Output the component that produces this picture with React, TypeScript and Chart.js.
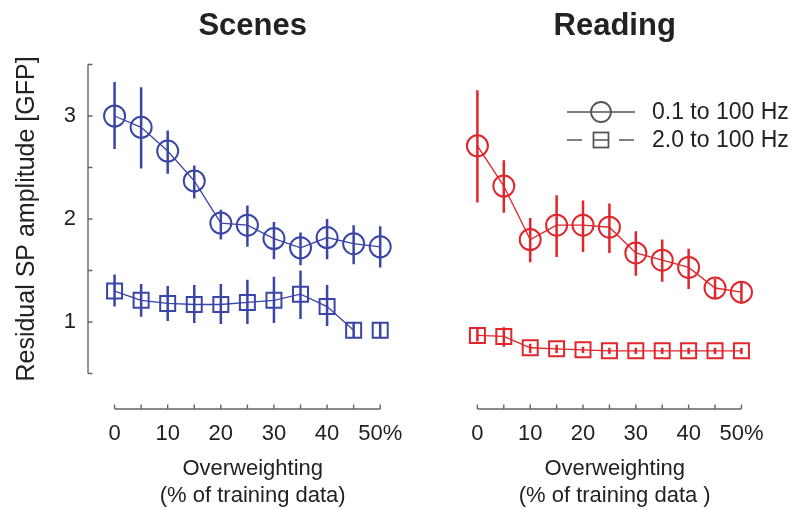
import React, { useEffect, useRef } from 'react';
import { Chart, registerables } from 'chart.js';

Chart.register(...registerables);
Chart.defaults.font.family = '"Liberation Sans", Arial, sans-serif';

// ---------- data ----------
const xValues = [0, 5, 10, 15, 20, 25, 30, 35, 40, 45, 50];
const xTickLabels = ['0', '', '10', '', '20', '', '30', '', '40', '', '50%'];
const yTickValues = [0.5, 1, 1.5, 2, 2.5, 3, 3.5];
const yTickLabels = ['', '1', '', '2', '', '3', ''];
const legendLabels = ['0.1 to 100 Hz', '2.0 to 100 Hz'];

// Scenes, 0.1 to 100 Hz
const scenesWide = [3.0, 2.89, 2.66, 2.37, 1.96, 1.94, 1.81, 1.72, 1.82, 1.76, 1.73];
const scenesWideLow = [2.68, 2.49, 2.44, 2.2, 1.8, 1.73, 1.61, 1.55, 1.61, 1.56, 1.53];
const scenesWideHigh = [3.33, 3.28, 2.86, 2.52, 2.09, 2.13, 1.97, 1.87, 2.0, 1.94, 1.93];
// Scenes, 2.0 to 100 Hz
const scenesNarrow = [1.3, 1.21, 1.18, 1.17, 1.17, 1.19, 1.21, 1.27, 1.15, 0.92, 0.92];
const scenesNarrowLow = [1.15, 1.05, 1.01, 0.99, 0.98, 0.98, 0.99, 1.03, 0.96, 0.85, 0.85];
const scenesNarrowHigh = [1.46, 1.37, 1.35, 1.36, 1.37, 1.41, 1.44, 1.5, 1.36, 0.99, 0.99];
const scenesNarrowGaps = [9];
// Reading, 0.1 to 100 Hz
const readingWide = [2.71, 2.32, 1.8, 1.94, 1.94, 1.92, 1.67, 1.6, 1.53, 1.33, 1.29];
const readingWideLow = [2.16, 2.06, 1.58, 1.63, 1.68, 1.67, 1.45, 1.39, 1.32, 1.22, 1.18];
const readingWideHigh = [3.25, 2.57, 2.01, 2.23, 2.18, 2.15, 1.88, 1.8, 1.71, 1.42, 1.39];
// Reading, 2.0 to 100 Hz
const readingNarrow = [0.87, 0.86, 0.75, 0.74, 0.73, 0.72, 0.72, 0.72, 0.72, 0.72, 0.72];
const readingNarrowLow = [0.81, 0.76, 0.7, 0.7, 0.7, 0.69, 0.69, 0.69, 0.69, 0.69, 0.69];
const readingNarrowHigh = [0.94, 0.95, 0.79, 0.78, 0.76, 0.75, 0.75, 0.75, 0.75, 0.75, 0.75];

// ---------- styles ----------
const BLUE = '#3a45a8';
const RED = '#e0262c';
const AXIS = '#666666';
const TEXT = '#222222';
const LEGEND = '#555555';

const pts = (ys: number[]) => xValues.map((x, i) => ({ x, y: ys[i] }));

function series(label: string, ys: number[], lo: number[], hi: number[], color: string, style: 'circle' | 'rect', gaps: number[] = []) {
  return {
    label,
    data: pts(ys),
    errLow: lo,
    errHigh: hi,
    borderColor: color,
    backgroundColor: 'rgba(0,0,0,0)',
    borderWidth: 1.3,
    pointStyle: style,
    pointRadius: style === 'circle' ? 10.5 : 10.6,
    pointBorderWidth: 2,
    pointBorderColor: color,
    pointBackgroundColor: 'rgba(0,0,0,0)',
    tension: 0,
    segment: {
      borderColor: (c: any) => (gaps.includes(c.p0DataIndex) ? 'rgba(0,0,0,0)' : color),
    },
  };
}

const errorBarPlugin = {
  id: 'errorBars',
  afterDatasetsDraw(chart: any) {
    const { ctx, scales } = chart;
    ctx.save();
    chart.data.datasets.forEach((ds: any) => {
      if (!ds.errLow) return;
      ctx.strokeStyle = ds.borderColor;
      ctx.lineWidth = 2.5;
      ctx.beginPath();
      ds.data.forEach((p: any, i: number) => {
        const px = scales.x.getPixelForValue(p.x);
        ctx.moveTo(px, scales.y.getPixelForValue(ds.errLow[i]));
        ctx.lineTo(px, scales.y.getPixelForValue(ds.errHigh[i]));
      });
      ctx.stroke();
    });
    ctx.restore();
  },
};

const axesPlugin = {
  id: 'offsetAxes',
  afterDraw(chart: any, _args: any, opts: any) {
    const { ctx, chartArea, scales } = chart;
    const x = scales.x;
    const y = scales.y;
    ctx.save();
    ctx.strokeStyle = AXIS;
    ctx.lineWidth = 1.4;
    ctx.beginPath();
    const axisY = chartArea.bottom + opts.xOffset;
    ctx.moveTo(x.getPixelForValue(xValues[0]), axisY);
    ctx.lineTo(x.getPixelForValue(xValues[xValues.length - 1]), axisY);
    xValues.forEach((v) => {
      const px = x.getPixelForValue(v);
      ctx.moveTo(px, axisY);
      ctx.lineTo(px, axisY - opts.tick);
    });
    if (opts.showY) {
      const px = chartArea.left;
      ctx.moveTo(px, y.getPixelForValue(yTickValues[0]));
      ctx.lineTo(px, y.getPixelForValue(yTickValues[yTickValues.length - 1]));
      yTickValues.forEach((v) => {
        const py = y.getPixelForValue(v);
        ctx.moveTo(px, py);
        ctx.lineTo(px + opts.tick, py);
      });
    }
    ctx.stroke();
    ctx.restore();
  },
};

const legendPlugin = {
  id: 'symbolLegend',
  afterDraw(chart: any) {
    const { ctx, chartArea } = chart;
    const x0 = chartArea.left + 116;
    const x1 = x0 + 68;
    const xm = (x0 + x1) / 2;
    const rows = [chartArea.top + 47.5, chartArea.top + 75.5];
    ctx.save();
    ctx.strokeStyle = LEGEND;
    ctx.lineWidth = 1.4;
    // row 1: solid line + circle
    ctx.beginPath();
    ctx.moveTo(x0, rows[0]);
    ctx.lineTo(x1, rows[0]);
    ctx.stroke();
    ctx.lineWidth = 1.8;
    ctx.beginPath();
    ctx.arc(xm, rows[0], 10, 0, Math.PI * 2);
    ctx.stroke();
    // row 2: dashed line + square
    ctx.lineWidth = 1.4;
    ctx.setLineDash([15, 11]);
    ctx.beginPath();
    ctx.moveTo(x0, rows[1]);
    ctx.lineTo(x1, rows[1]);
    ctx.stroke();
    ctx.setLineDash([]);
    ctx.lineWidth = 1.8;
    ctx.strokeRect(xm - 7.5, rows[1] - 7.5, 15, 15);
    // text
    ctx.fillStyle = TEXT;
    ctx.font = '23px "Liberation Sans", Arial, sans-serif';
    ctx.textBaseline = 'middle';
    ctx.textAlign = 'left';
    ctx.fillText(legendLabels[0], x0 + 85, rows[0] + 1);
    ctx.fillText(legendLabels[1], x0 + 85, rows[1] + 1);
    ctx.restore();
  },
};

function makeConfig(title: string, xTitle: string[], datasets: any[], showY: boolean, padLeft: number, padRight: number) {
  return {
    type: 'line',
    data: { datasets },
    plugins: showY ? [errorBarPlugin, axesPlugin] : [errorBarPlugin, axesPlugin, legendPlugin],
    options: {
      responsive: false,
      animation: false,
      events: [],
      layout: { padding: { left: padLeft, right: padRight, top: 0, bottom: 0 } },
      plugins: {
        legend: { display: false },
        tooltip: { enabled: false },
        title: {
          display: true,
          fullSize: false,
          text: title,
          color: TEXT,
          font: { size: 31, weight: 'bold' },
          padding: { top: 8, bottom: 19.3 },
        },
        offsetAxes: { xOffset: 35.5, tick: 4.5, showY },
      },
      scales: {
        x: {
          type: 'linear',
          min: -5,
          max: 57,
          afterBuildTicks: (s: any) => {
            s.ticks = xValues.map((v) => ({ value: v }));
          },
          ticks: {
            autoSkip: false,
            maxRotation: 0,
            padding: 47,
            color: TEXT,
            font: { size: 22 },
            callback: (_v: any, i: number) => xTickLabels[i],
          },
          grid: { display: false, drawTicks: false },
          border: { display: false },
          title: {
            display: true,
            text: xTitle,
            color: TEXT,
            font: { size: 22, lineHeight: 1.2 },
            padding: { top: 0, bottom: 0 },
          },
          afterFit: (s: any) => {
            s.height = 135.5;
            s.paddingLeft = 0;
            s.paddingRight = 0;
          },
        },
        y: {
          type: 'linear',
          display: showY,
          min: 0.5,
          max: 3.5,
          afterBuildTicks: (s: any) => {
            s.ticks = yTickValues.map((v) => ({ value: v }));
          },
          ticks: {
            autoSkip: false,
            padding: 12,
            color: TEXT,
            font: { size: 22 },
            callback: (_v: any, i: number) => yTickLabels[i],
          },
          grid: { display: false, drawTicks: false },
          border: { display: false },
          title: {
            display: showY,
            text: 'Residual SP amplitude [GFP]',
            color: TEXT,
            font: { size: 25 },
            padding: { top: 12, bottom: 0 },
          },
          afterFit: (s: any) => {
            if (showY) s.width = 88;
            s.paddingTop = 0;
            s.paddingBottom = 0;
          },
        },
      },
    },
  };
}

function ChartCanvas({ config, left, width }: { config: any; left: number; width: number }) {
  const ref = useRef<HTMLCanvasElement>(null);
  useEffect(() => {
    if (!ref.current) return;
    const chart = new Chart(ref.current, config);
    return () => chart.destroy();
  }, []);
  return (
    <canvas
      ref={ref}
      width={width}
      height={509}
      style={{ position: 'absolute', left, top: 0, width, height: 509 }}
    />
  );
}

export default function App() {
  const scenesConfig = makeConfig(
    'Scenes',
    ['Overweighting', '(% of training data)'],
    [
      series(legendLabels[0], scenesWide, scenesWideLow, scenesWideHigh, BLUE, 'circle'),
      series(legendLabels[1], scenesNarrow, scenesNarrowLow, scenesNarrowHigh, BLUE, 'rect', scenesNarrowGaps),
    ],
    true,
    0,
    10.5
  );
  const readingConfig = makeConfig(
    'Reading',
    ['Overweighting', '(% of training data )'],
    [
      series(legendLabels[0], readingWide, readingWideLow, readingWideHigh, RED, 'circle'),
      series(legendLabels[1], readingNarrow, readingNarrowLow, readingNarrowHigh, RED, 'rect'),
    ],
    false,
    21,
    5.2
  );
  return (
    <div style={{ position: 'absolute', left: 0, top: 0, width: 791, height: 509, background: '#ffffff', overflow: 'hidden' }}>
      <ChartCanvas config={scenesConfig} left={0} width={430} />
      <ChartCanvas config={readingConfig} left={430} width={361} />
    </div>
  );
}
